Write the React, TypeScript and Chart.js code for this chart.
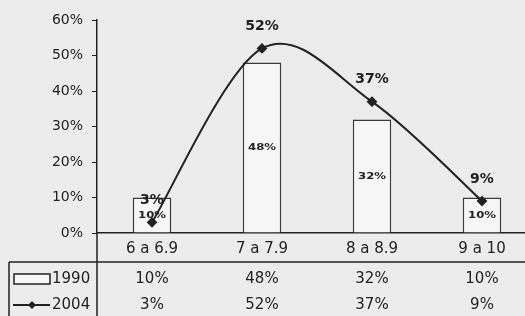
import React, { useEffect, useRef } from "react";
import { Chart, registerables } from "chart.js";

Chart.register(...registerables);

const categories = ["6 a 6.9", "7 a 7.9", "8 a 8.9", "9 a 10"];
const seriesNames = ["1990", "2004"];
const values1990 = [10, 48, 32, 10];
const values2004 = [3, 52, 37, 9];
const yMin = 0;
const yMax = 60;
const yStep = 10;

const pct = (v: number) => `${v}%`;

export default function App() {
  const ref = useRef<HTMLCanvasElement | null>(null);

  useEffect(() => {
    if (!ref.current) return;
    const ink = "#222222";
    const bg = "#ececec";
    const family = "'DejaVu Sans', Verdana, sans-serif";

    // Excel-style (Catmull-Rom) smoothing for the 2004 line
    const smooth = {
      id: "smooth",
      beforeDatasetDraw(chart: any, args: any) {
        const meta = args.meta;
        if (meta.type !== "line") return;
        meta.dataset.updateControlPoints(chart.chartArea, "x");
        const pts = meta.data;
        const n = pts.length;
        for (let i = 0; i < n; i++) {
          const p = pts[i];
          const prev = pts[Math.max(0, i - 1)];
          const next = pts[Math.min(n - 1, i + 1)];
          const dx = (next.x - prev.x) / 6;
          const dy = (next.y - prev.y) / 6;
          p.cp1x = p.x - dx;
          p.cp1y = p.y - dy;
          p.cp2x = p.x + dx;
          p.cp2y = p.y + dy;
        }
      },
    };

    const deco = {
      id: "deco",
      beforeDraw(chart: any) {
        const { ctx, width, height } = chart;
        ctx.save();
        ctx.fillStyle = bg;
        ctx.fillRect(0, 0, width, height);
        ctx.restore();
      },
      afterDraw(chart: any) {
        const { ctx, chartArea, width, height } = chart;
        const xs = chart.scales.x;
        const ys = chart.scales.y;
        const tableTop = chartArea.bottom + 29;
        const row1 = tableTop + 17;
        const row2 = tableTop + 43;
        const leftEdge = 9;
        ctx.save();
        ctx.strokeStyle = ink;
        ctx.lineWidth = 1.5;
        ctx.beginPath();
        ctx.moveTo(chartArea.left, chartArea.bottom);
        ctx.lineTo(chartArea.left, height);
        ctx.moveTo(leftEdge, tableTop);
        ctx.lineTo(width, tableTop);
        ctx.moveTo(leftEdge, tableTop);
        ctx.lineTo(leftEdge, height);
        ctx.stroke();

        // legend keys
        ctx.fillStyle = "#f6f6f6";
        ctx.fillRect(14, row1 - 5, 36, 10);
        ctx.strokeRect(14, row1 - 5, 36, 10);
        ctx.lineWidth = 2;
        ctx.beginPath();
        ctx.moveTo(13, row2);
        ctx.lineTo(50, row2);
        ctx.stroke();
        ctx.fillStyle = ink;
        ctx.beginPath();
        ctx.moveTo(32, row2 - 4);
        ctx.lineTo(36, row2);
        ctx.lineTo(32, row2 + 4);
        ctx.lineTo(28, row2);
        ctx.closePath();
        ctx.fill();

        ctx.font = `15px ${family}`;
        ctx.fillStyle = ink;
        ctx.textBaseline = "middle";
        ctx.textAlign = "left";
        ctx.fillText(seriesNames[0], 52, row1);
        ctx.fillText(seriesNames[1], 52, row2);

        ctx.textAlign = "center";
        categories.forEach((_, i) => {
          const x = xs.getPixelForValue(i);
          ctx.fillText(pct(values1990[i]), x, row1);
          ctx.fillText(pct(values2004[i]), x, row2);
        });

        // bar labels (small, horizontally stretched as in the scan)
        ctx.font = `bold 9px ${family}`;
        values1990.forEach((v, i) => {
          const x = xs.getPixelForValue(i);
          const y = (ys.getPixelForValue(v) + ys.getPixelForValue(0)) / 2;
          ctx.save();
          ctx.translate(x, y);
          ctx.scale(1.3, 1);
          ctx.fillText(pct(v), 0, 0);
          ctx.restore();
        });

        // line labels
        ctx.font = `bold 14px ${family}`;
        values2004.forEach((v, i) => {
          const x = xs.getPixelForValue(i);
          const y = ys.getPixelForValue(v) - 22;
          ctx.fillText(pct(v), x, y);
        });
        ctx.restore();
      },
    };

    const chart = new Chart(ref.current, {
      type: "bar",
      data: {
        labels: categories,
        datasets: [
          {
            type: "line",
            label: seriesNames[1],
            data: values2004,
            borderColor: ink,
            borderWidth: 2,
            tension: 0.4,
            pointStyle: "rectRot",
            pointRadius: 4,
            pointBackgroundColor: ink,
            pointBorderColor: ink,
            order: 0,
          } as any,
          {
            type: "bar",
            label: seriesNames[0],
            data: values1990,
            backgroundColor: "#f6f6f6",
            borderColor: "#3a3a3a",
            borderWidth: 1.5,
            barPercentage: 0.35,
            categoryPercentage: 1,
            order: 1,
          } as any,
        ],
      },
      options: {
        animation: false,
        responsive: true,
        maintainAspectRatio: false,
        layout: { padding: { left: 0, right: 8, top: 20, bottom: 54 } },
        plugins: {
          legend: { display: false },
          tooltip: { enabled: false },
        },
        scales: {
          x: {
            offset: true,
            grid: { display: false, drawTicks: false },
            border: { display: true, color: ink, width: 1.5 },
            ticks: { font: { family, size: 15 }, color: ink, padding: 7 },
            afterFit: (s: any) => {
              s.height = 29;
            },
          },
          y: {
            min: yMin,
            max: yMax,
            grid: { drawOnChartArea: false, drawTicks: true, tickLength: 5, color: ink },
            border: { display: true, color: ink, width: 1.5 },
            ticks: {
              stepSize: yStep,
              callback: (v: any) => pct(Number(v)),
              font: { family, size: 14 },
              color: ink,
              padding: 9,
            },
            afterFit: (s: any) => {
              s.width = 97;
            },
          },
        },
      },
      plugins: [smooth, deco],
    });
    return () => chart.destroy();
  }, []);

  return (
    <div style={{ position: "fixed", left: 0, top: 0, width: 525, height: 316, overflow: "hidden", background: "#ececec" }}>
      <div style={{ width: 545, height: 316, position: "relative" }}>
        <canvas ref={ref} />
      </div>
    </div>
  );
}
